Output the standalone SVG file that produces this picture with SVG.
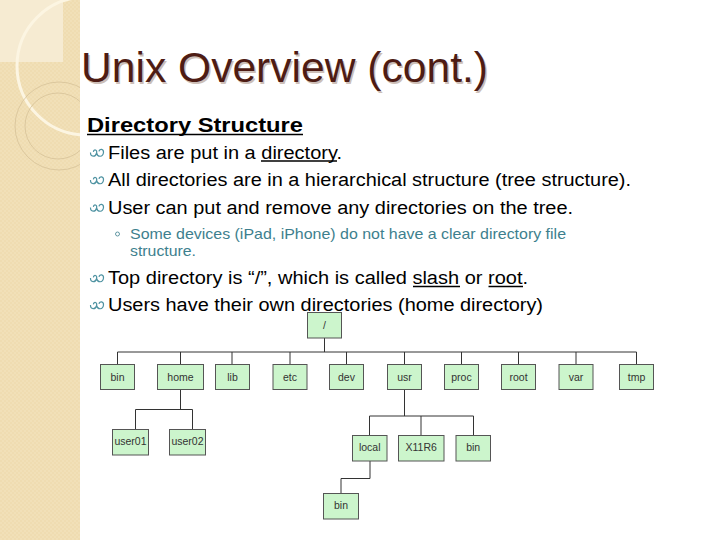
<svg xmlns="http://www.w3.org/2000/svg" xmlns:xlink="http://www.w3.org/1999/xlink" width="720" height="540" viewBox="0 0 720 540">
<style>
.body{font-family:"Liberation Sans",Arial,sans-serif;font-size:18px;fill:#000}
.sub{font-family:"Liberation Sans",Arial,sans-serif;font-size:14.5px;fill:#3e7f8e}
.node rect{fill:#ccf5cc;stroke:#555;stroke-width:1}
.node text{font-family:"Liberation Sans",Arial,sans-serif;font-size:10.5px;fill:#333;text-anchor:middle}
.conn line{stroke:#333;stroke-width:1}
.ul{stroke:#000;stroke-width:1.4}
</style>
<defs>
<pattern id="chk" width="4" height="4" patternUnits="userSpaceOnUse">
<rect width="4" height="4" fill="#f1e0b8"/>
<rect width="2" height="2" fill="#efdcb1"/>
<rect x="2" y="2" width="2" height="2" fill="#efdcb1"/>
</pattern>
<clipPath id="strip"><rect x="0" y="0" width="80" height="540"/></clipPath>
<symbol id="bul" overflow="visible">
<path d="M0.5 3.5 C0.3 8 5.5 8.5 6.6 4 C7.4 0.6 3.8 -0.3 3.4 2.8 M6.6 4 C7.6 8.5 13 8.3 13.5 3.5 C13.8 -0.2 9.6 -0.8 9 2.4" fill="none" stroke="#4f93a2" stroke-width="1.2"/>
</symbol>
</defs>
<rect width="720" height="540" fill="#fff"/>
<g id="background">
<rect x="0" y="0" width="80" height="540" fill="url(#chk)"/>
<g clip-path="url(#strip)">
<rect x="0" y="0" width="63" height="62" fill="#f6ebd2"/>
<circle cx="86" cy="66" r="69" fill="none" stroke="#fcf5e2" stroke-width="3"/>
<circle cx="59" cy="126" r="44" fill="none" stroke="#d6c298" stroke-width="0.8"/>
<circle cx="58" cy="126" r="33" fill="none" stroke="#d6c298" stroke-width="0.8"/>
</g>
</g>
<g id="title">
<text x="82.5" y="83.5" font-family="'Liberation Sans',Arial,sans-serif" font-size="42" fill="#cdbfb8" textLength="407" lengthAdjust="spacingAndGlyphs">Unix Overview (cont.)</text>
<text x="81" y="82" font-family="'Liberation Sans',Arial,sans-serif" font-size="42" fill="#4e1c14" textLength="407" lengthAdjust="spacingAndGlyphs">Unix Overview (cont.)</text>
</g>
<g id="text">
<text x="87" y="131.5" font-family="'Liberation Sans',Arial,sans-serif" font-size="20" font-weight="bold" fill="#000" textLength="216" lengthAdjust="spacingAndGlyphs">Directory Structure</text>
<line class="ul" x1="87" y1="134.5" x2="303" y2="134.5" stroke-width="1.8"/>
<use xlink:href="#bul" x="90" y="149"/>
<text class="body" x="108" y="158.5" textLength="234" lengthAdjust="spacingAndGlyphs">Files are put in a directory.</text>
<line class="ul" x1="261" y1="161" x2="337" y2="161"/>
<use xlink:href="#bul" x="90" y="176.5"/>
<text class="body" x="108" y="186" textLength="523" lengthAdjust="spacingAndGlyphs">All directories are in a hierarchical structure (tree structure).</text>
<use xlink:href="#bul" x="90" y="204"/>
<text class="body" x="108" y="213.5" textLength="465" lengthAdjust="spacingAndGlyphs">User can put and remove any directories on the tree.</text>
<circle cx="117.5" cy="234" r="2" fill="none" stroke="#3e7f8e" stroke-width="0.8"/>
<text class="sub" x="130" y="238.5" textLength="436" lengthAdjust="spacingAndGlyphs">Some devices (iPad, iPhone) do not have a clear directory file</text>
<text class="sub" x="130" y="255.5" textLength="66" lengthAdjust="spacingAndGlyphs">structure.</text>
<use xlink:href="#bul" x="90" y="274.5"/>
<text class="body" x="108" y="284" textLength="420" lengthAdjust="spacingAndGlyphs">Top directory is “/”, which is called slash or root.</text>
<line class="ul" x1="413" y1="286.5" x2="460" y2="286.5"/>
<line class="ul" x1="488.5" y1="286.5" x2="523" y2="286.5"/>
<use xlink:href="#bul" x="90" y="301.5"/>
<text class="body" x="108" y="311" textLength="435" lengthAdjust="spacingAndGlyphs">Users have their own directories (home directory)</text>
</g>
<g id="connectors" class="conn">
<line x1="324.5" y1="338" x2="324.5" y2="352"/>
<line x1="117.5" y1="352" x2="636.5" y2="352"/>
<line x1="117.5" y1="352" x2="117.5" y2="364"/>
<line x1="180.5" y1="352" x2="180.5" y2="364"/>
<line x1="232" y1="352" x2="232" y2="364"/>
<line x1="290" y1="352" x2="290" y2="364"/>
<line x1="346.5" y1="352" x2="346.5" y2="364"/>
<line x1="404.5" y1="352" x2="404.5" y2="364"/>
<line x1="461.5" y1="352" x2="461.5" y2="364"/>
<line x1="518.5" y1="352" x2="518.5" y2="364"/>
<line x1="576" y1="352" x2="576" y2="364"/>
<line x1="636.5" y1="352" x2="636.5" y2="364"/>
<line x1="180.5" y1="389" x2="180.5" y2="409.5"/>
<line x1="135.5" y1="409.5" x2="192.5" y2="409.5"/>
<line x1="135.5" y1="409.5" x2="135.5" y2="429"/>
<line x1="192.5" y1="409.5" x2="192.5" y2="429"/>
<line x1="404.5" y1="389" x2="404.5" y2="416"/>
<line x1="369.5" y1="416" x2="473.5" y2="416"/>
<line x1="369.5" y1="416" x2="369.5" y2="435"/>
<line x1="421" y1="416" x2="421" y2="435"/>
<line x1="473.5" y1="416" x2="473.5" y2="435"/>
<line x1="370" y1="461" x2="370" y2="478.5"/>
<line x1="341" y1="478.5" x2="370" y2="478.5"/>
<line x1="341" y1="478.5" x2="341" y2="493"/>
</g>
<g id="n-slash" class="node"><rect x="307.5" y="312.5" width="34" height="25.5"/><text x="324.5" y="328.5">/</text></g>
<g id="n-bin" class="node"><rect x="100.5" y="364.5" width="34" height="25"/><text x="117.5" y="380.5">bin</text></g>
<g id="n-home" class="node"><rect x="157.5" y="364.5" width="46" height="25"/><text x="180.5" y="380.5">home</text></g>
<g id="n-lib" class="node"><rect x="215.5" y="364.5" width="34" height="25"/><text x="232.5" y="380.5">lib</text></g>
<g id="n-etc" class="node"><rect x="273" y="364.5" width="34" height="25"/><text x="290" y="380.5">etc</text></g>
<g id="n-dev" class="node"><rect x="329.5" y="364.5" width="34" height="25"/><text x="346.5" y="380.5">dev</text></g>
<g id="n-usr" class="node"><rect x="387.5" y="364.5" width="34" height="25"/><text x="404.5" y="380.5">usr</text></g>
<g id="n-proc" class="node"><rect x="444.5" y="364.5" width="34" height="25"/><text x="461.5" y="380.5">proc</text></g>
<g id="n-root" class="node"><rect x="501.5" y="364.5" width="34" height="25"/><text x="518.5" y="380.5">root</text></g>
<g id="n-var" class="node"><rect x="559" y="364.5" width="34" height="25"/><text x="576" y="380.5">var</text></g>
<g id="n-tmp" class="node"><rect x="619.5" y="364.5" width="34" height="25"/><text x="636.5" y="380.5">tmp</text></g>
<g id="n-user01" class="node"><rect x="112.5" y="429.5" width="36" height="25.5"/><text x="130.5" y="445">user01</text></g>
<g id="n-user02" class="node"><rect x="169.5" y="429.5" width="36" height="25.5"/><text x="187.5" y="445">user02</text></g>
<g id="n-local" class="node"><rect x="352.5" y="435.5" width="34.5" height="25.5"/><text x="369.7" y="451">local</text></g>
<g id="n-x11r6" class="node"><rect x="398.5" y="435.5" width="45.5" height="25.5"/><text x="421.2" y="451">X11R6</text></g>
<g id="n-bin2" class="node"><rect x="456" y="435.5" width="34.5" height="25.5"/><text x="473.2" y="451">bin</text></g>
<g id="n-bin3" class="node"><rect x="323.5" y="493.5" width="35" height="25.5"/><text x="341" y="509">bin</text></g>
</svg>
